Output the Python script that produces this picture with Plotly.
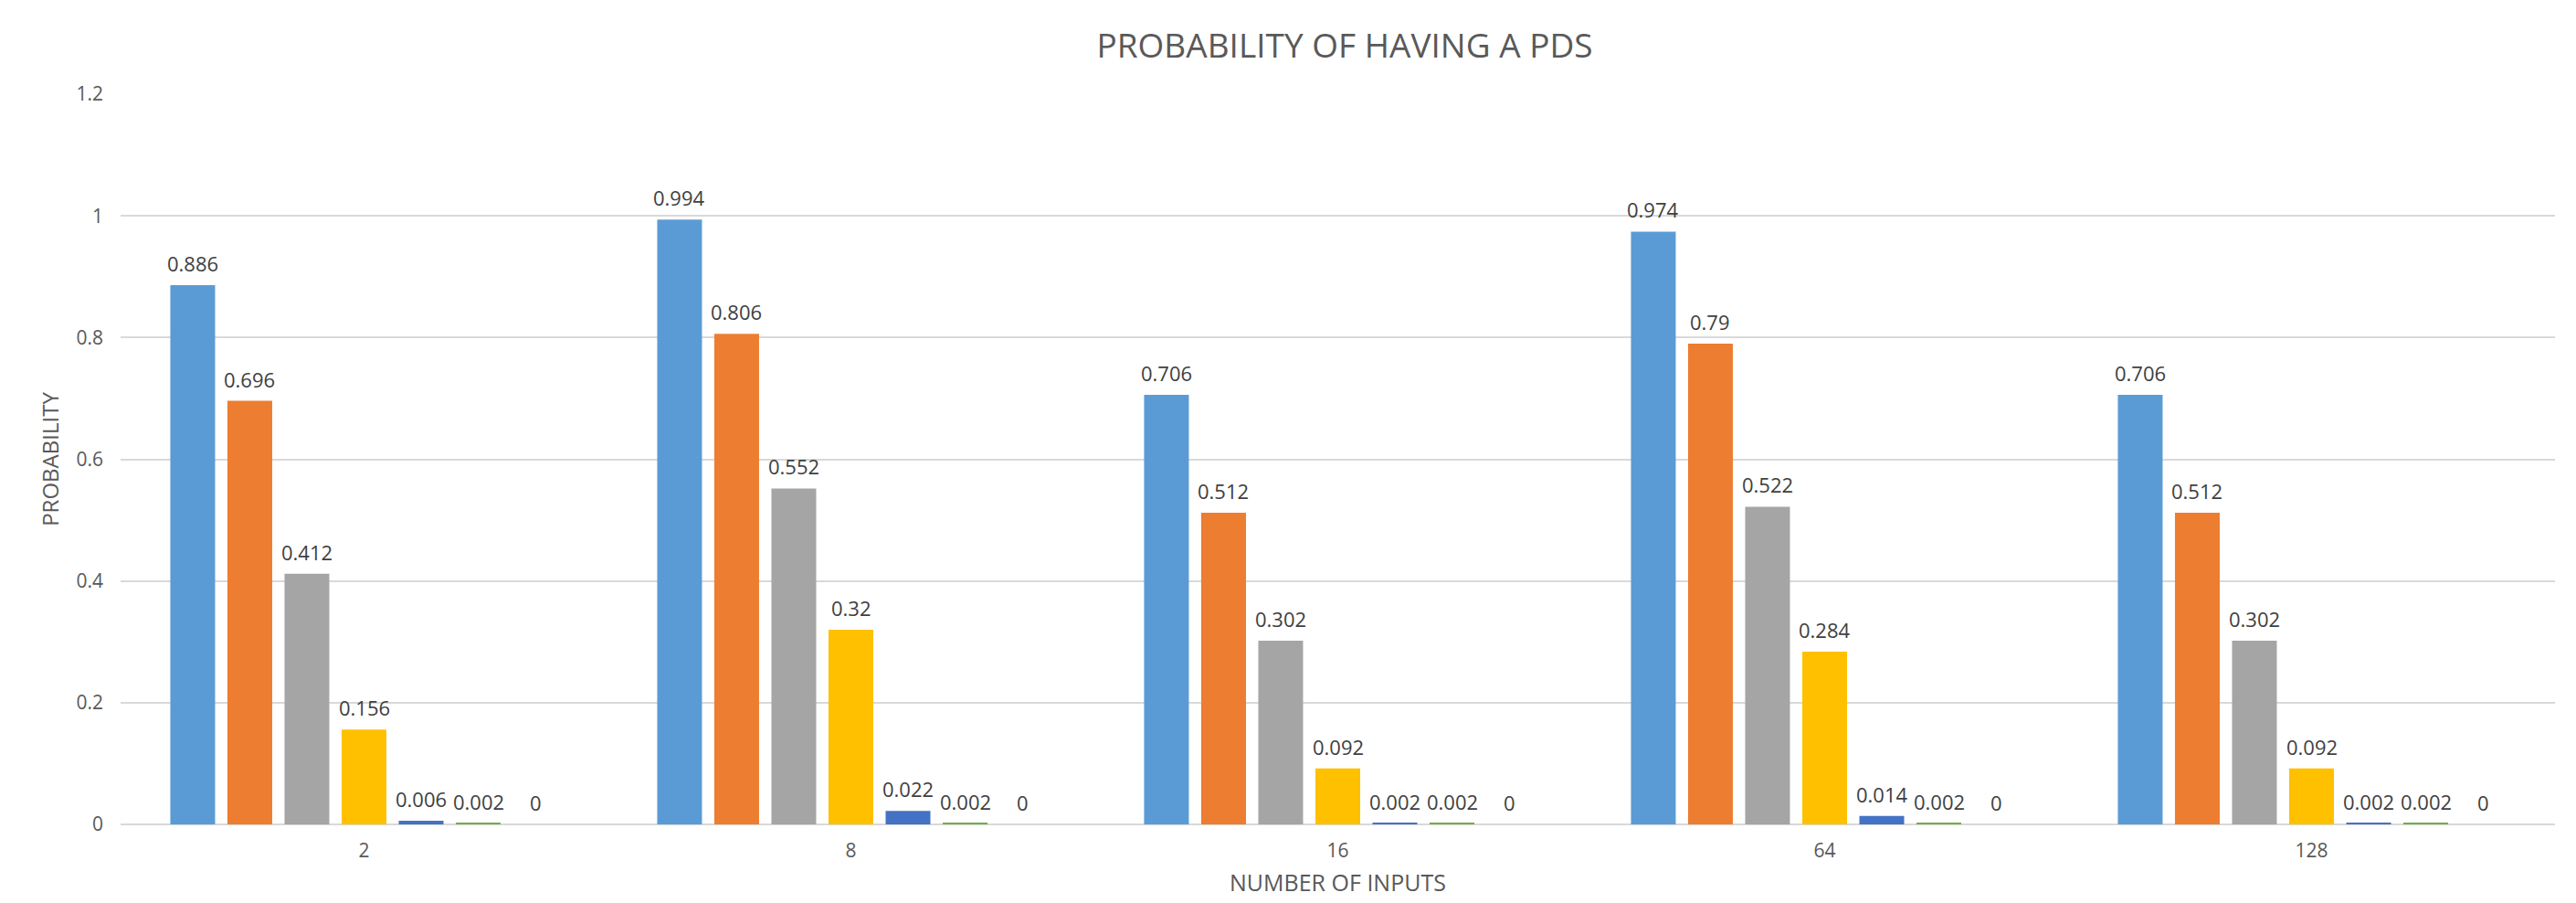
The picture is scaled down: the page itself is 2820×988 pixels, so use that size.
import plotly.graph_objects as go

categories = ["2", "8", "16", "64", "128"]
series_names = ["Series 1", "Series 2", "Series 3", "Series 4", "Series 5", "Series 6", "Series 7"]
s1 = [0.886, 0.994, 0.706, 0.974, 0.706]
s2 = [0.696, 0.806, 0.512, 0.79, 0.512]
s3 = [0.412, 0.552, 0.302, 0.522, 0.302]
s4 = [0.156, 0.32, 0.092, 0.284, 0.092]
s5 = [0.006, 0.022, 0.002, 0.014, 0.002]
s6 = [0.002, 0.002, 0.002, 0.002, 0.002]
s7 = [0, 0, 0, 0, 0]
colors = ["#5B9BD5", "#ED7D31", "#A5A5A5", "#FFC000", "#4472C4", "#70AD47", "#264478"]
y_ticks = [0, 0.2, 0.4, 0.6, 0.8, 1, 1.2]
y_tick_labels = ["0", "0.2", "0.4", "0.6", "0.8", "1", "1.2"]

FONT = "Open Sans"
BARGAP = 0.179
all_series = [s1, s2, s3, s4, s5, s6, s7]
n = len(all_series)

fig = go.Figure()
for name, vals, c in zip(series_names, all_series, colors):
    fig.add_trace(go.Bar(
        x=categories, y=vals, name=name, marker=dict(color=c, line=dict(width=0)),
    ))

# data labels placed above each bar (category index + group offset in data units)
slot = (1 - BARGAP) / n
for i, vals in enumerate(all_series):
    for j, v in enumerate(vals):
        fig.add_annotation(
            x=j + (i - (n - 1) / 2) * slot, y=v, xref="x", yref="y",
            text=str(v), showarrow=False, yanchor="bottom", xanchor="center",
            yshift=7, font=dict(family=FONT, size=22, color="#404040"),
        )

fig.update_layout(
    width=2820, height=988,
    margin=dict(l=132, r=23, t=103, b=79),
    paper_bgcolor="white", plot_bgcolor="white",
    barmode="group", bargap=BARGAP, bargroupgap=0.216,
    showlegend=False,
    title=dict(text="PROBABILITY OF HAVING A PDS", x=0.522, xanchor="center",
               y=1 - 50 / 988, yanchor="middle",
               font=dict(family=FONT, size=37, color="#595959")),
    font=dict(family=FONT, color="#595959"),
)
fig.update_yaxes(range=[0, 1.2], tickvals=y_ticks, ticktext=y_tick_labels,
                 showgrid=True, gridcolor="#D9D9D9", gridwidth=1.5,
                 zeroline=True, zerolinecolor="#D9D9D9", zerolinewidth=2,
                 tickfont=dict(family=FONT, size=21, color="#595959"),
                 ticks="", ticklabelstandoff=18,
                 title=dict(text="PROBABILITY", standoff=12,
                            font=dict(family=FONT, size=24, color="#595959")))
fig.update_xaxes(tickfont=dict(family=FONT, size=21, color="#595959"),
                 ticks="", ticklabelstandoff=14, showline=False,
                 title=dict(text="NUMBER OF INPUTS", standoff=14,
                            font=dict(family=FONT, size=25, color="#595959")))

fig.write_html("out.html")
